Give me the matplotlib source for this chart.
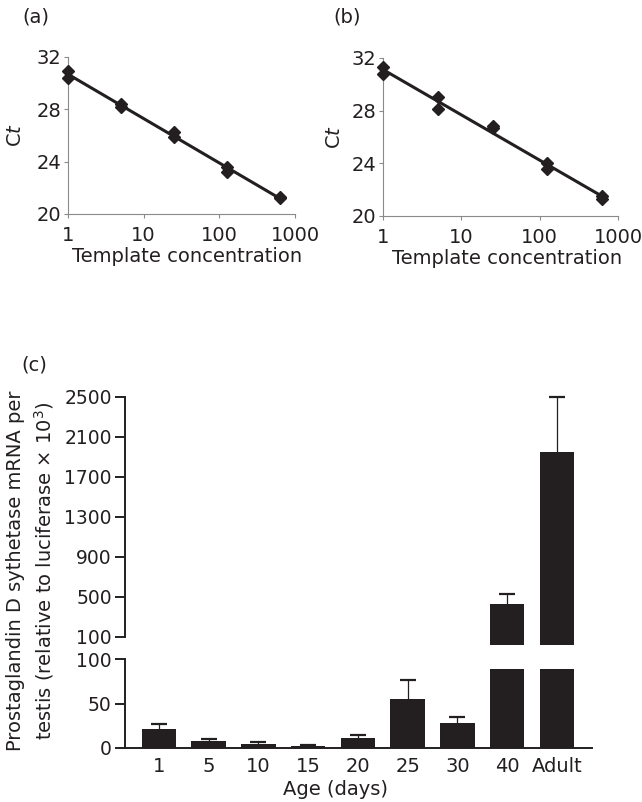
import matplotlib.pyplot as plt
import numpy as np

plt.rcParams['font.family'] = 'DejaVu Sans'
ink = '#231f20'
axis_grey = '#8a8a8a'

# (a) and (b): standard curves, template concentration vs Ct
conc = [1, 1, 5, 5, 25, 25, 125, 125, 625, 625]
ct_a = [30.9, 30.4, 28.4, 28.2, 26.3, 25.9, 23.6, 23.2, 21.3, 21.2]
ct_b = [31.3, 30.8, 29.0, 28.1, 26.8, 26.7, 24.0, 23.6, 21.5, 21.3]

# (c): PGDS mRNA per testis by age
ages = ['1', '5', '10', '15', '20', '25', '30', '40', 'Adult']
mrna = [20.8, 7.9, 4.5, 2.3, 11.3, 54.7, 27.6, 425, 1942]
sem = [6.0, 1.7, 1.5, 1.1, 3.1, 21.9, 6.8, 101, 558]

fig = plt.figure(figsize=(6.42, 8.02), dpi=100)


def curve_panel(rect, ct, ylab_x, xlab_x):
    ax = fig.add_axes(rect)
    logx = np.log10(conc)
    slope, icpt = np.polyfit(logx, ct, 1)
    xs = np.array([min(conc), max(conc)])
    ax.plot(xs, slope * np.log10(xs) + icpt, color=ink, lw=2.2, zorder=2)
    ax.plot(conc, ct, 'D', color=ink, ms=6.5, clip_on=False, zorder=3)
    ax.set_xscale('log')
    ax.set_xlim(1, 1000)
    ax.set_ylim(20, 32)
    ax.set_xticks([1, 10, 100, 1000])
    ax.set_xticklabels(['1', '10', '100', '1000'])
    ax.xaxis.set_minor_locator(plt.NullLocator())
    ax.set_yticks([20, 24, 28, 32])
    for s in ['top', 'right']:
        ax.spines[s].set_visible(False)
    for s in ['left', 'bottom']:
        ax.spines[s].set_color(axis_grey)
        ax.spines[s].set_linewidth(0.8)
    ax.tick_params(direction='out', length=3, width=0.8, color=axis_grey,
                   labelcolor=ink, labelsize=14)
    ax.tick_params(axis='y', pad=2)
    ax.tick_params(axis='x', pad=6)
    ax.set_ylabel(r'C$\mathit{t}$', fontsize=14, color=ink)
    ax.yaxis.set_label_coords(ylab_x, 0.5)
    ax.set_xlabel('Template concentration', fontsize=14, color=ink)
    ax.xaxis.set_label_coords(xlab_x, -0.21)
    return ax


curve_panel([0.1059, 0.7332, 0.3536, 0.1958], ct_a, -0.19, 0.526)
curve_panel([0.5966, 0.7307, 0.3660, 0.1970], ct_b, -0.166, 0.53)

fig.text(36 / 642, 1 - 17 / 802, '(a)', fontsize=14, color=ink, ha='center', va='center')
fig.text(347 / 642, 1 - 17 / 802, '(b)', fontsize=14, color=ink, ha='center', va='center')
fig.text(34 / 642, 1 - 365 / 802, '(c)', fontsize=14, color=ink, ha='center', va='center')

# (c) broken axis bar chart
pos = np.arange(len(ages))
vals = np.array(mrna)
err = np.array(sem)
big = vals > 100
low_cut = 89.4
bw = 0.69

ax_hi = fig.add_axes([0.1947, 0.1958, 0.727, 0.3096])
ax_lo = fig.add_axes([0.1947, 0.0677, 0.727, 0.1102])


def add_err(ax, mask):
    # upward-only error bars, cap only on the upper end
    eb = ax.errorbar(pos[mask], vals[mask], yerr=[np.zeros(mask.sum()), err[mask]],
                     fmt='none', ecolor=ink, elinewidth=0.9, capsize=6, capthick=1.6)
    for cap in eb.lines[1]:
        if np.allclose(cap.get_ydata(), vals[mask]):
            cap.set_visible(False)
        cap.set_clip_on(False)
    for col in eb.lines[2]:
        col.set_clip_on(False)


ax_hi.bar(pos[big], vals[big], width=bw, color=ink)
add_err(ax_hi, big)
ax_hi.set_ylim(17, 2500)
ax_hi.set_yticks([100, 500, 900, 1300, 1700, 2100, 2500])
ax_hi.spines['left'].set_bounds(100, 2500)
for s in ['top', 'right', 'bottom']:
    ax_hi.spines[s].set_visible(False)
ax_hi.tick_params(axis='x', bottom=False, labelbottom=False)

ax_lo.bar(pos, np.minimum(vals, low_cut), width=bw, color=ink)
add_err(ax_lo, ~big)
ax_lo.set_ylim(0, 100)
ax_lo.set_yticks([0, 50, 100])
for s in ['top', 'right']:
    ax_lo.spines[s].set_visible(False)
ax_lo.set_xticks(pos)
ax_lo.set_xticklabels(ages)
ax_lo.tick_params(axis='x', length=0, pad=7, labelsize=14, labelcolor=ink)
ax_lo.set_xlabel('Age (days)', fontsize=14, color=ink)
ax_lo.xaxis.set_label_coords(0.45, -0.36)

for ax in (ax_hi, ax_lo):
    ax.set_xlim(-0.68, 8.70)
    ax.spines['left'].set_linewidth(1.4)
    ax.spines['left'].set_color(ink)
    ax.spines['bottom'].set_linewidth(1.4)
    ax.spines['bottom'].set_color(ink)
    ax.tick_params(axis='y', direction='out', length=7.5, width=1.4, color=ink,
                   labelcolor=ink, labelsize=13.5, pad=2)

fig.text(31 / 642, 1 - 571 / 802,
         'Prostaglandin D sythetase mRNA per\n'
         r'testis (relative to luciferase $\times$ 10$^3$)',
         rotation=90, ha='center', va='center', fontsize=14, color=ink,
         linespacing=1.35)

fig.savefig('out.png', dpi=100)
